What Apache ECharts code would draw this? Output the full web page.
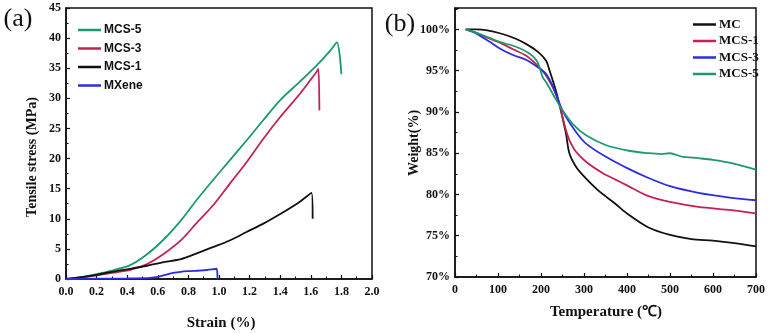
<!DOCTYPE html>
<html>
<head>
<meta charset="utf-8">
<script src="https://cdn.jsdelivr.net/npm/echarts@6/dist/echarts.min.js"></script>
<style>html,body{margin:0;padding:0;background:#fff}#c{width:768px;height:333px}</style>
</head>
<body>
<div id="c"></div>
<script>
// ---- Panel (a): tensile stress vs strain ----
const strainNames = ['MCS-5', 'MCS-3', 'MCS-1', 'MXene'];
const mcs5Stress = [[0,0],[0.1,0.3],[0.2,0.8],[0.3,1.4],[0.42,2.3],[0.53,4.1],[0.64,6.6],[0.75,9.7],[0.85,13.0],[0.96,16.4],[1.07,19.7],[1.18,23.0],[1.29,26.4],[1.40,29.7],[1.53,32.8],[1.64,35.5],[1.73,38.0],[1.77,39.3],[1.80,34.0]];
const mcs3Stress = [[0,0],[0.1,0.2],[0.2,0.6],[0.3,1.0],[0.42,1.5],[0.53,2.5],[0.64,4.2],[0.75,6.4],[0.85,9.2],[0.96,12.2],[1.07,15.8],[1.18,19.4],[1.29,23.3],[1.40,26.9],[1.53,30.8],[1.64,34.5],[1.65,34.9],[1.656,28.0]];
const mcs1Stress = [[0,0],[0.1,0.3],[0.2,0.7],[0.3,1.2],[0.42,1.7],[0.53,2.2],[0.64,2.8],[0.75,3.3],[0.85,4.2],[0.96,5.3],[1.07,6.4],[1.18,7.8],[1.29,9.2],[1.40,10.8],[1.51,12.5],[1.605,14.3],[1.612,10.0]];
const mxeneStress = [[0,0],[0.2,0.05],[0.4,0.1],[0.55,0.2],[0.6,0.35],[0.65,0.7],[0.7,1.0],[0.75,1.2],[0.8,1.3],[0.9,1.45],[0.985,1.7],[0.99,0]];

// ---- Panel (b): TGA weight vs temperature ----
const tgaNames = ['MC', 'MCS-1', 'MCS-3', 'MCS-5'];
const mcWeight = [[25,100],[50,100],[75,99.9],[100,99.6],[140,98.9],[170,98.1],[195,97.2],[212,96.2],[220,95.0],[235,92.5],[246,90.2],[258,87.4],[266,85.0],[281,83.4],[300,82.2],[335,80.4],[370,79.0],[400,77.7],[450,76.0],[500,75.1],[550,74.6],[600,74.4],[650,74.1],[700,73.7]];
const mcs1Weight = [[25,100],[50,99.6],[80,98.9],[104,98.4],[135,97.6],[166,96.8],[196,95.4],[212,94.4],[227,93.0],[242,91.2],[250,89.4],[258,87.8],[266,86.6],[281,85.2],[304,84.0],[343,82.6],[373,81.8],[400,81.1],[450,79.8],[500,79.1],[566,78.5],[643,78.1],[700,77.7]];
const mcs3Weight = [[25,100],[50,99.5],[81,98.5],[104,97.7],[135,96.9],[166,96.3],[196,95.3],[212,94.6],[227,93.2],[242,91.1],[258,89.4],[281,87.6],[304,86.2],[350,84.6],[404,83.1],[450,82.0],[500,81.0],[566,80.2],[643,79.6],[700,79.3]];
const mcs5Weight = [[25,100],[65,99.3],[104,98.5],[142,97.9],[173,97.1],[189,96.3],[196,95.5],[204,94.2],[212,93.6],[235,91.5],[250,90.2],[273,88.6],[304,87.2],[350,86.0],[404,85.3],[450,85.0],[480,84.9],[500,85.0],[527,84.6],[566,84.4],[600,84.2],[643,83.8],[700,83.0]];

const GREEN = '#1c9a6c', RED = '#c3244f', BLACK = '#111111', BLUE = '#2b2ee0';
const serifBold = {fontFamily: 'Liberation Serif', fontWeight: 'bold', color: '#111'};

function axisCommon(extra) {
  return Object.assign({
    axisLine: {show: true, onZero: false, lineStyle: {color: '#111', width: 1.5}},
    axisTick: {show: true, inside: true, length: 4, lineStyle: {color: '#111', width: 1.2}},
    minorTick: {show: true, splitNumber: 2, length: 2.5, lineStyle: {color: '#111', width: 1}},
    splitLine: {show: false}
  }, extra);
}

// series names are prefixed per panel so the two legends keep their own colours
function lineSeries(prefix, name, data, color, xi) {
  return {
    name: prefix + name, type: 'line', data: data, xAxisIndex: xi, yAxisIndex: xi,
    symbol: 'none', smooth: 0.3,
    lineStyle: {color: color, width: 1.8}, itemStyle: {color: color}, z: 3
  };
}
const stripPrefix = n => n.replace(/^[ab]:/, '');

const chart = echarts.init(document.getElementById('c'));
chart.setOption({
  animation: false,
  backgroundColor: '#fff',
  grid: [
    {left: 66, right: 396, top: 8, bottom: 54, show: true, borderColor: '#111', borderWidth: 1.5, backgroundColor: 'transparent'},
    {left: 455, right: 12, top: 8, bottom: 56, show: true, borderColor: '#111', borderWidth: 1.5, backgroundColor: 'transparent'}
  ],
  xAxis: [
    axisCommon({type: 'value', gridIndex: 0, min: 0, max: 2, interval: 0.2,
      axisLabel: Object.assign({fontSize: 12, margin: 7, formatter: v => v.toFixed(1)}, serifBold)}),
    axisCommon({type: 'value', gridIndex: 1, min: 0, max: 700, interval: 100,
      axisLabel: Object.assign({fontSize: 12, margin: 7}, serifBold)})
  ],
  yAxis: [
    axisCommon({type: 'value', gridIndex: 0, min: 0, max: 45, interval: 5,
      axisLabel: Object.assign({fontSize: 12, margin: 5}, serifBold)}),
    axisCommon({type: 'value', gridIndex: 1, min: 70, max: 102.6, interval: 5,
      axisLabel: Object.assign({fontSize: 12, margin: 5,
        formatter: v => (Math.abs(v % 5) < 1e-6 ? v + '%' : '')}, serifBold)})
  ],
  legend: [
    {
      data: strainNames.map(n => 'a:' + n), formatter: stripPrefix,
      left: 73, top: 19, orient: 'vertical', itemGap: 6.5,
      icon: 'rect', itemWidth: 23, itemHeight: 2.5,
      textStyle: {fontFamily: 'Liberation Sans', fontWeight: 'bold', fontSize: 12, color: '#111', padding: [0,0,0,-2]}
    },
    {
      data: tgaNames.map(n => 'b:' + n), formatter: stripPrefix,
      left: 688, top: 13, orient: 'vertical', itemGap: 3.5,
      icon: 'rect', itemWidth: 23, itemHeight: 2.5,
      textStyle: {fontFamily: 'Liberation Serif', fontWeight: 'bold', fontSize: 13, color: '#111', padding: [0,0,0,-2]}
    }
  ],
  series: [
    lineSeries('a:', 'MCS-5', mcs5Stress, GREEN, 0),
    lineSeries('a:', 'MCS-3', mcs3Stress, RED, 0),
    lineSeries('a:', 'MCS-1', mcs1Stress, BLACK, 0),
    lineSeries('a:', 'MXene', mxeneStress, BLUE, 0),
    lineSeries('b:', 'MC', mcWeight, BLACK, 1),
    lineSeries('b:', 'MCS-1', mcs1Weight, RED, 1),
    lineSeries('b:', 'MCS-3', mcs3Weight, BLUE, 1),
    lineSeries('b:', 'MCS-5', mcs5Weight, GREEN, 1)
  ],
  graphic: [
    {type: 'text', x: 32, y: 157, rotation: Math.PI / 2,
      style: {text: 'Tensile stress (MPa)', font: 'bold 14px "Liberation Serif"', fill: '#111', textAlign: 'center', textVerticalAlign: 'middle', align: 'center', verticalAlign: 'middle'}},
    {type: 'text', x: 221, y: 323,
      style: {text: 'Strain (%)', font: 'bold 15px "Liberation Serif"', fill: '#111', textAlign: 'center', textVerticalAlign: 'middle', align: 'center', verticalAlign: 'middle'}},
    {type: 'text', x: 414, y: 143, rotation: Math.PI / 2,
      style: {text: 'Weight(%)', font: 'bold 14px "Liberation Serif"', fill: '#111', textAlign: 'center', textVerticalAlign: 'middle', align: 'center', verticalAlign: 'middle'}},
    {type: 'text', x: 606, y: 312,
      style: {text: 'Temperature (℃)', font: 'bold 15px "Liberation Serif"', fill: '#111', textAlign: 'center', textVerticalAlign: 'middle', align: 'center', verticalAlign: 'middle'}},
    {type: 'text', x: 18, y: 19,
      style: {text: '(a)', font: '26px "Liberation Serif"', fill: '#111', textAlign: 'center', textVerticalAlign: 'middle', align: 'center', verticalAlign: 'middle'}},
    {type: 'text', x: 400, y: 24,
      style: {text: '(b)', font: '26px "Liberation Serif"', fill: '#111', textAlign: 'center', textVerticalAlign: 'middle', align: 'center', verticalAlign: 'middle'}}
  ]
});
</script>
</body>
</html>
